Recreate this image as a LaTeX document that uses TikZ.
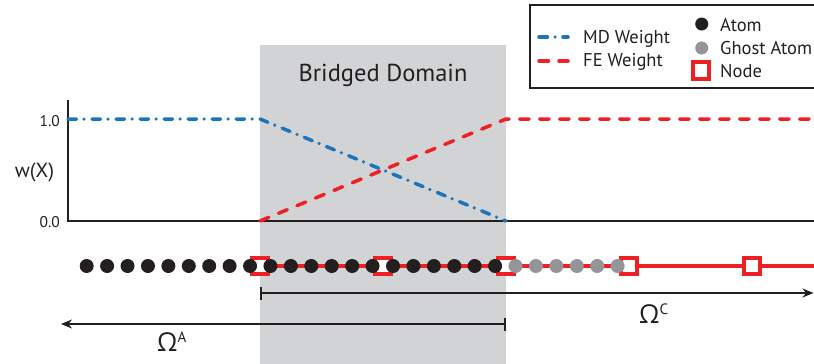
\documentclass[tikz,border=0pt]{standalone}
\usepackage{fontspec}
\setmainfont{PT Sans}
\newfontfamily\omegafont{Open Sans}
\usetikzlibrary{arrows.meta}
\definecolor{mdblue}{RGB}{28,117,188}
\definecolor{fered}{RGB}{237,32,36}
\definecolor{bridgegray}{RGB}{209,211,212}
\definecolor{ghostgray}{RGB}{147,149,152}
\definecolor{ink}{RGB}{35,31,32}
\begin{document}
\begin{tikzpicture}[x=1pt,y=-1pt,
  mdline/.style={mdblue,line width=3.5pt,line cap=round,dash pattern=on 8.5pt off 7.5pt on 0pt off 8pt},
  feline/.style={fered,line width=3.5pt,line cap=round,dash pattern=on 9.5pt off 10.5pt},
  atom/.style={circle,fill=ink,inner sep=0pt,minimum size=14pt},
  ghost/.style={atom,fill=ghostgray},
  fenode/.style={rectangle,draw=fered,fill=white,line width=4pt,inner sep=0pt,minimum size=16pt},
  axisline/.style={ink,line width=2.5pt},
  span/.style={ink,line width=2.5pt,{Bar[width=13pt,line width=2pt]}-{Stealth[length=11pt,width=9pt]}},
  lbl/.style={text=ink,inner sep=0pt,font=\fontsize{18.5}{20}\selectfont},
  ticklbl/.style={text=ink,inner sep=0pt,font=\fontsize{15.5}{18}\selectfont},
  omegalbl/.style={text=ink,inner sep=0pt}
]
\useasboundingbox (0,0) rectangle (814,364);

% bridging region
\fill[bridgegray] (260,45) rectangle (506,364);
\node[text=ink,inner sep=0pt,font=\fontsize{24.5}{28}\selectfont,anchor=base] (title) at (383,81.5) {Bridged Domain};

% weight axes
\coordinate (ytop) at (68,100);
\coordinate (origin) at (68,221);
\coordinate (xend) at (816,221);
\draw[axisline] (ytop) -- (origin) -- (xend);
\node[ticklbl,anchor=base east] (one) at (60,126) {1.0};
\node[ticklbl,anchor=base east] (zero) at (60,227) {0.0};
\node[text=ink,inner sep=0pt,font=\fontsize{20.5}{22}\selectfont,anchor=base] (wlabel) at (34.5,177) {w(X)};

% MD and FE weight functions
\coordinate (mdA) at (68,119);
\coordinate (mdB) at (260,119);
\coordinate (mdC) at (506,221);
\draw[mdline] (mdA) -- (mdB) -- (mdC);
\coordinate (feA) at (260,221);
\coordinate (feB) at (506,119);
\coordinate (feC) at (820,119);
\draw[feline] (feA) -- (feB) -- (feC);

% finite element mesh
\coordinate (rowstart) at (260,266);
\coordinate (rowend) at (816,266);
\draw[fered,line width=4pt] (rowstart) -- (rowend);
\foreach \k/\xx in {0/260,1/383,2/506,3/629,4/751.5}
  \node[fenode] (n\k) at (\xx,266) {};

% atoms and ghost atoms
\foreach \i in {0,...,20}
  \node[atom] (a\i) at ({86.7+20.42*\i},266) {};
\foreach \i in {21,...,26}
  \node[ghost] (a\i) at ({86.7+20.42*\i},266) {};

% domain extents
\coordinate (cL) at (260,293);
\coordinate (cR) at (813.5,293);
\draw[span] (cL) -- (cR);
\node[omegalbl,anchor=base west] (omegaC) at (639,323)
  {{\omegafont\fontsize{26}{28}\selectfont Ω}\raisebox{8.5pt}{\fontsize{15}{16}\selectfont C}};
\coordinate (aR) at (506,324);
\coordinate (aL) at (61,324);
\draw[span] (aR) -- (aL);
\node[omegalbl,anchor=base west] (omegaA) at (157,351)
  {{\omegafont\fontsize{26}{28}\selectfont Ω}\raisebox{8.5pt}{\fontsize{15}{16}\selectfont A}};

% legend
\draw[ink,line width=2.5pt] (530,5) rectangle (818,88);
\coordinate (mdkeyA) at (539,37);
\coordinate (mdkeyB) at (568,37);
\draw[mdline] (mdkeyA) -- (mdkeyB);
\coordinate (fekeyA) at (539,61);
\coordinate (fekeyB) at (568,61);
\draw[feline] (fekeyA) -- (fekeyB);
\node[lbl,anchor=base west] (mdtext) at (583,43) {MD Weight};
\node[lbl,anchor=base west] (fetext) at (583,66) {FE Weight};
\node[atom,minimum size=13pt] (keyatom) at (701.7,24) {};
\node[ghost,minimum size=13pt] (keyghost) at (701.7,48) {};
\node[fenode,minimum size=16.5pt] (keynode) at (701.2,70.5) {};
\node[lbl,anchor=base west] (atomtext) at (720,31) {Atom};
\node[lbl,anchor=base west] (ghosttext) at (720,54.5) {Ghost Atom};
\node[lbl,anchor=base west] (nodetext) at (720,77) {Node};
\end{tikzpicture}
\end{document}
